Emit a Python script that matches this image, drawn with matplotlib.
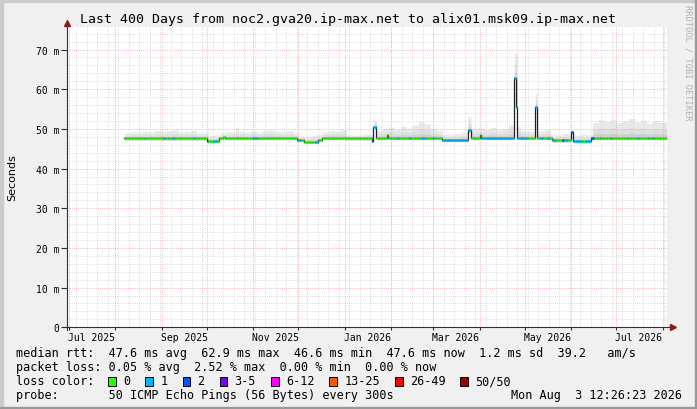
import matplotlib
matplotlib.use("Agg")
import matplotlib.pyplot as plt
import matplotlib.dates as mdates
import numpy as np
import pandas as pd
from matplotlib.patches import Rectangle

W, H = 697, 410

t_start = pd.Timestamp("2025-06-29 12:26:23")
t_end = pd.Timestamp("2026-08-03 12:26:23")

# median rtt in ms, holds from each date until the next one
median_dates = ["2025-08-07", "2025-10-01", "2025-10-09", "2025-10-12", "2025-10-13",
                "2025-11-30", "2025-12-05", "2025-12-14", "2025-12-17", "2026-01-01",
                "2026-01-19", "2026-01-20", "2026-01-22", "2026-01-29", "2026-01-30",
                "2026-03-07", "2026-03-24", "2026-03-26", "2026-04-01", "2026-04-02",
                "2026-04-24", "2026-04-25", "2026-04-26", "2026-05-08", "2026-05-09",
                "2026-05-19", "2026-06-01", "2026-06-02", "2026-06-14"]
median_ms = [47.6, 47.0, 47.7, 48.0, 47.7,
             47.2, 46.8, 47.3, 47.8, 47.6,
             47.0, 50.5, 47.7, 48.4, 47.8,
             47.2, 49.6, 47.8, 48.4, 47.8,
             62.9, 55.5, 47.8, 55.5, 47.8,
             47.1, 49.2, 46.9, 47.7]

# loss episodes (lost pings out of 50)
loss_start = ["2025-08-20", "2025-09-02", "2025-09-05", "2025-09-08", "2025-09-22",
              "2025-10-01", "2025-10-05", "2025-10-13", "2025-11-01", "2025-11-10",
              "2025-11-30", "2025-12-12", "2026-01-19", "2026-01-20", "2026-01-31",
              "2026-02-05", "2026-02-13", "2026-02-21", "2026-03-01", "2026-03-07",
              "2026-03-24", "2026-03-28", "2026-04-02", "2026-04-24", "2026-04-28",
              "2026-05-08", "2026-05-11", "2026-05-16", "2026-05-20", "2026-05-26",
              "2026-05-28", "2026-06-01", "2026-06-02", "2026-06-10", "2026-06-14",
              "2026-06-20", "2026-06-27", "2026-07-08", "2026-07-15", "2026-07-22",
              "2026-07-25"]
loss_end = ["2025-08-21", "2025-09-03", "2025-09-06", "2025-09-10", "2025-09-23",
            "2025-10-02", "2025-10-08", "2025-10-14", "2025-11-04", "2025-11-11",
            "2025-12-03", "2025-12-15", "2026-01-20", "2026-01-22", "2026-02-01",
            "2026-02-06", "2026-02-14", "2026-02-24", "2026-03-02", "2026-03-24",
            "2026-03-26", "2026-03-29", "2026-04-24", "2026-04-27", "2026-05-03",
            "2026-05-09", "2026-05-13", "2026-05-18", "2026-05-22", "2026-05-27",
            "2026-05-30", "2026-06-02", "2026-06-08", "2026-06-14", "2026-06-16",
            "2026-06-21", "2026-06-28", "2026-07-09", "2026-07-16", "2026-07-23",
            "2026-07-26"]
loss_pings = [1, 1, 1, 1, 1,
              2, 1, 1, 1, 1,
              1, 1, 2, 1, 1,
              1, 1, 1, 1, 1,
              1, 1, 1, 1, 1,
              1, 1, 1, 1, 2,
              1, 2, 1, 1, 2,
              1, 1, 1, 1, 1,
              1]

# upper edge of the ping spread (smoke), ms
smoke_dates = ["2025-08-07", "2025-08-11", "2025-08-15", "2025-08-19", "2025-08-23",
               "2025-08-27", "2025-08-31", "2025-09-04", "2025-09-08", "2025-09-12",
               "2025-09-16", "2025-09-20", "2025-09-24", "2025-09-28", "2025-10-02",
               "2025-10-06", "2025-10-10", "2025-10-14", "2025-10-20", "2025-10-22",
               "2025-10-26", "2025-10-30", "2025-11-03", "2025-11-07", "2025-11-11",
               "2025-11-15", "2025-11-19", "2025-11-23", "2025-11-27", "2025-12-01",
               "2025-12-05", "2025-12-09", "2025-12-13", "2025-12-17", "2025-12-21",
               "2025-12-25", "2025-12-29", "2026-01-02", "2026-01-06", "2026-01-10",
               "2026-01-14", "2026-01-20", "2026-01-22", "2026-01-26", "2026-01-30",
               "2026-02-03", "2026-02-07", "2026-02-11", "2026-02-15", "2026-02-19",
               "2026-02-23", "2026-02-27", "2026-03-03", "2026-03-07", "2026-03-11",
               "2026-03-15", "2026-03-19", "2026-03-24", "2026-03-26", "2026-03-31",
               "2026-04-04", "2026-04-08", "2026-04-12", "2026-04-16", "2026-04-20",
               "2026-04-24", "2026-04-26", "2026-04-28", "2026-05-02", "2026-05-08",
               "2026-05-09", "2026-05-14", "2026-05-18", "2026-05-22", "2026-05-26",
               "2026-05-30", "2026-06-03", "2026-06-07", "2026-06-11", "2026-06-15",
               "2026-06-19", "2026-06-23", "2026-06-27", "2026-07-01", "2026-07-05",
               "2026-07-09", "2026-07-13", "2026-07-17", "2026-07-21", "2026-07-25",
               "2026-07-29", "2026-08-02"]
smoke_top = [49.0, 49.3, 49.1, 49.4, 49.2,
             49.6, 49.3, 49.5, 49.8, 49.2,
             49.4, 49.6, 49.0, 49.1, 48.3,
             48.5, 49.0, 49.2, 50.3, 49.3,
             49.1, 49.4, 49.2, 49.6, 49.7,
             49.4, 49.3, 49.5, 49.0, 48.2,
             48.0, 48.3, 48.6, 49.2, 49.5,
             49.4, 49.8, 48.6, 48.4, 48.5,
             48.6, 52.2, 49.6, 50.0, 50.4,
             49.8, 50.6, 50.2, 50.9, 51.8,
             51.2, 50.0, 49.6, 48.6, 48.5,
             48.8, 49.2, 53.0, 50.0, 50.2,
             49.8, 50.3, 49.7, 50.0, 51.0,
             69.0, 50.5, 49.6, 49.4, 59.0,
             49.5, 49.8, 48.6, 48.5, 48.9,
             48.7, 48.4, 48.6, 48.5, 51.6,
             52.3, 51.9, 52.4, 51.5, 52.0,
             52.6, 51.8, 52.2, 51.4, 52.0,
             51.6, 51.7]

loss_labels = ["0", "1", "2", "3-5", "6-12", "13-25", "26-49", "50/50"]
loss_edges = [0, 1, 2, 3, 6, 13, 26, 50]
loss_colors = ["#26ff00", "#00b8ff", "#0059ff", "#7e00ff",
               "#ff00ff", "#ff5500", "#ff0000", "#a10000"]

legend_lines = [
    "median rtt:  47.6 ms avg  62.9 ms max  46.6 ms min  47.6 ms now  1.2 ms sd  39.2   am/s",
    "packet loss: 0.05 % avg  2.52 % max  0.00 % min  0.00 % now",
]
probe_text = "probe:       50 ICMP Echo Pings (56 Bytes) every 300s"
stamp_text = "Mon Aug  3 12:26:23 2026"
title = "Last 400 Days from noc2.gva20.ip-max.net to alix01.msk09.ip-max.net"

MONO = "DejaVu Sans Mono"

# ---- sample everything on a daily grid
days = pd.date_range("2025-08-07", "2026-08-03", freq="D")
x = mdates.date2num(days.to_pydatetime())
x_edges = np.append(x, mdates.date2num(t_end.to_pydatetime()))

med_idx = np.searchsorted(pd.to_datetime(median_dates), days, side="right") - 1
med = np.array(median_ms)[med_idx]
sm_idx = np.searchsorted(pd.to_datetime(smoke_dates), days, side="right") - 1
top = np.maximum(np.array(smoke_top)[sm_idx], med)

loss = np.zeros(len(days), dtype=int)
for s, e, n in zip(loss_start, loss_end, loss_pings):
    sel = (days >= pd.Timestamp(s)) & (days < pd.Timestamp(e))
    loss[sel] = n
cidx = np.searchsorted(loss_edges, loss, side="right") - 1

# ---- figure
fig = plt.figure(figsize=(W / 100, H / 100), dpi=100, facecolor="#f0f0f0")
fig.patches.append(Rectangle((0, 0), 3 / W, 1, transform=fig.transFigure, color="#cbcbcb", zorder=0))
fig.patches.append(Rectangle((0, 1 - 3 / H), 1, 3 / H, transform=fig.transFigure, color="#cbcbcb", zorder=0))
fig.patches.append(Rectangle((1 - 2 / W, 0), 2 / W, 1, transform=fig.transFigure, color="#999999", zorder=0))
fig.patches.append(Rectangle((0, 0), 1, 2 / H, transform=fig.transFigure, color="#999999", zorder=0))

L, R, T, B = 66.7, 666.7, 26.7, 328.3
ax = fig.add_axes([L / W, 1 - B / H, (R - L) / W, (B - T) / H])
ax.set_facecolor("white")
ax.set_xlim(mdates.date2num(t_start.to_pydatetime()), mdates.date2num(t_end.to_pydatetime()))
ax.set_ylim(0, 76)
for sp in ax.spines.values():
    sp.set_visible(False)

# smoke layers (light outer, darker near the median)
def stepy(v):
    return np.append(v, v[-1])

lo = med - 0.4
for frac, col in [(1.0, "#e9e9e9"), (0.55, "#dedede"), (0.25, "#cfcfcf")]:
    hi = med + frac * (top - med)
    ax.fill_between(x_edges, stepy(lo), stepy(hi), step="post", color=col, lw=0, zorder=1)

# grid
weeks = pd.date_range("2025-07-06", "2026-08-03", freq="7D")
months = pd.date_range("2025-07-01", "2026-08-01", freq="MS")
dot = (0, (1, 1.6))
for w in weeks:
    ax.axvline(mdates.date2num(w.to_pydatetime()), color="#d0d0d0", lw=0.6, ls=dot, zorder=2)
for yv in range(2, 77, 2):
    if yv % 10:
        ax.axhline(yv, color="#d0d0d0", lw=0.6, ls=dot, zorder=2)
for m in months:
    ax.axvline(mdates.date2num(m.to_pydatetime()), color="#f09a9a", lw=0.6, ls=dot, zorder=2)
for yv in range(10, 71, 10):
    ax.axhline(yv, color="#f09a9a", lw=0.6, ls=dot, zorder=2)

# median: dark step line under loss-coloured bars
ax.step(x_edges, stepy(med), where="post", color="#202020", lw=0.9, zorder=3)
ax.hlines(med, x_edges[:-1], x_edges[1:], colors=[loss_colors[c] for c in cidx],
          lw=2.0, zorder=4)

# axes lines with arrows
ax.plot([-4 / 600, 1.008], [0, 0], transform=ax.transAxes, color="#303030", lw=0.8, clip_on=False, zorder=5)
ax.plot([0, 0], [-3 / 301.6, 1.0], transform=ax.transAxes, color="#303030", lw=0.8, clip_on=False, zorder=5)
ax.plot([1.01], [0], marker=">", ms=4.5, color="#8b1e1e", transform=ax.transAxes, clip_on=False, zorder=6)
ax.plot([0], [1.01], marker="^", ms=4.5, color="#8b1e1e", transform=ax.transAxes, clip_on=False, zorder=6)

# ticks: y labels, x month marks and mid-month labels
yt = list(range(0, 71, 10))
ax.set_yticks(yt)
ax.set_yticklabels(["0" if v == 0 else f"{v} m" for v in yt], family=MONO, fontsize=7)
ax.tick_params(axis="y", length=4, width=0.8, color="#303030", pad=1.5)

ax.set_xticks(mdates.date2num(months.to_pydatetime()))
ax.set_xticklabels([])
ax.tick_params(axis="x", which="major", length=2.5, width=0.8, color="#303030")
lab_months = pd.date_range("2025-07-01", "2026-07-01", freq="2MS")
lab_pos = mdates.date2num((lab_months + pd.Timedelta(days=15)).to_pydatetime())
ax.set_xticks(lab_pos, minor=True)
ax.set_xticklabels([m.strftime("%b %Y") for m in lab_months], minor=True, family=MONO, fontsize=7)
ax.tick_params(axis="x", which="minor", length=0, pad=3.5)

# texts
fig.text(0.5, 1 - 19 / H, title, ha="center", va="center", family=MONO, fontsize=9.5)
fig.text(12 / W, 1 - 177.5 / H, "Seconds", rotation=90, ha="center", va="center",
         family="DejaVu Sans", fontsize=8)
fig.text(688 / W, 1 - 5 / H, "RRDTOOL / TOBI OETIKER", rotation=270, ha="center", va="top",
         family=MONO, fontsize=6.2, color="#b0b0b0")

fs = 8.45
cw = 7.1
fig.text(16 / W, 1 - 354 / H, legend_lines[0], va="center", family=MONO, fontsize=fs)
fig.text(16 / W, 1 - 368 / H, legend_lines[1], va="center", family=MONO, fontsize=fs)
fig.text(16 / W, 1 - 382 / H, "loss color:", va="center", family=MONO, fontsize=fs)
bx = 108.3
for lab, col in zip(loss_labels, loss_colors):
    fig.patches.append(Rectangle((bx / W, 1 - 386.5 / H), 7.7 / W, 9 / H, transform=fig.transFigure,
                                 facecolor=col, edgecolor="black", lw=0.7))
    fig.text((bx + 15) / W, 1 - 382 / H, lab, va="center", family=MONO, fontsize=fs)
    bx = bx + 15 + len(lab) * cw + 15
fig.text(16 / W, 1 - 396 / H, probe_text, va="center", family=MONO, fontsize=fs)
fig.text(682 / W, 1 - 396 / H, stamp_text, va="center", ha="right", family=MONO, fontsize=fs)

fig.savefig("out.png", dpi=100, facecolor=fig.get_facecolor())
